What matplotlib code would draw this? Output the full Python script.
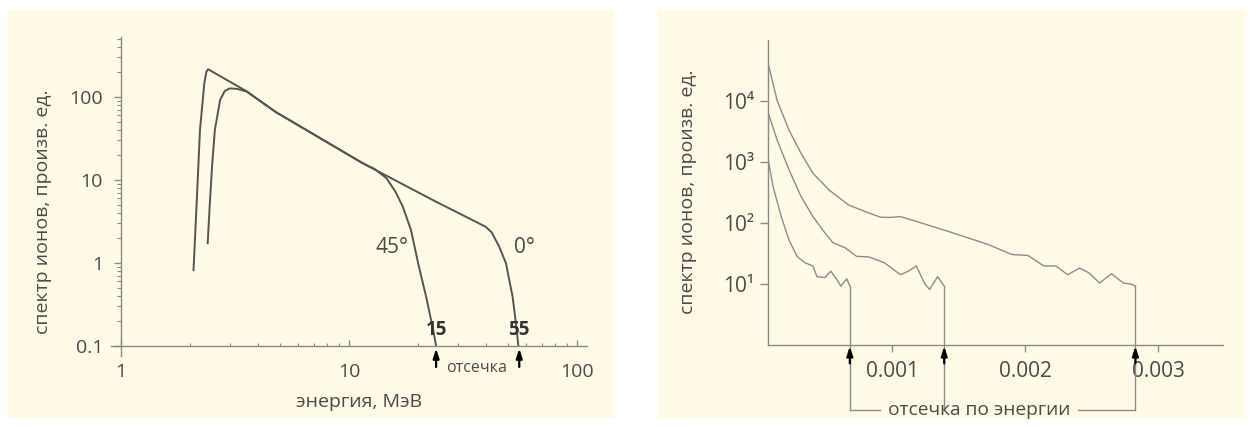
import numpy as np
import matplotlib
matplotlib.use('Agg')
import matplotlib.pyplot as plt
from matplotlib.patches import Rectangle
from matplotlib.ticker import FixedLocator, NullFormatter, NullLocator

plt.rcParams['font.family'] = ['Open Sans', 'DejaVu Sans']

TEXT = '#4a4a4a'
AXIS = '#8a8a8a'
PANEL = '#fffbe6'

# left panel: energy spectra, MeV (log-log)
deg0_x = [2.08, 2.15, 2.22, 2.32, 2.37, 2.41, 3.56, 4.77, 11.5, 23.7, 39.7, 42.2, 45.6, 48.8, 52.2, 54.4, 55.3]
deg0_y = [0.82, 5.7, 40, 147, 202, 216, 117, 66, 15.9, 5.6, 2.74, 2.35, 1.57, 0.99, 0.39, 0.156, 0.1]
deg45_x = [2.40, 2.45, 2.51, 2.58, 2.72, 2.85, 3.0, 3.25, 3.56, 4.77, 11.5, 13.0, 14.6, 16.0, 17.2, 18.7, 20.1, 21.8, 23.4, 24.1]
deg45_y = [1.73, 5, 15, 40, 92, 118, 127, 125, 116, 66, 15.9, 13.5, 10.5, 7.2, 4.8, 2.5, 0.99, 0.39, 0.156, 0.1]
cut_left = [24.1, 55.8]
cut_left_labels = ['15', '55']

# right panel: three spectra, energy in units of 1e-3
top_x = [0.064, 0.131, 0.221, 0.311, 0.401, 0.521, 0.670, 0.820, 0.910, 0.98, 1.06, 1.18, 1.42, 1.72,
         1.90, 2.02, 2.14, 2.23, 2.32, 2.41, 2.48, 2.56, 2.65, 2.74, 2.80, 2.83]
top_y = [41000, 10200, 3300, 1380, 650, 347, 195, 145, 123, 122, 126, 105, 72, 44,
         30, 29, 19.5, 19.5, 14, 18, 15, 10.2, 14.5, 10.2, 9.8, 9.1]
mid_x = [0.064, 0.131, 0.221, 0.311, 0.401, 0.491, 0.551, 0.641, 0.730, 0.820, 0.940, 1.06, 1.12,
         1.18, 1.24, 1.28, 1.34, 1.39]
mid_y = [6300, 2290, 740, 270, 126, 68, 47, 39, 28, 27.5, 22, 14, 16, 19.5, 10.2, 8, 13, 9.1]
low_x = [0.064, 0.101, 0.162, 0.221, 0.281, 0.341, 0.401, 0.431, 0.491, 0.536, 0.581, 0.611, 0.656, 0.679]
low_y = [1070, 390, 126, 52, 28, 22, 19.5, 13, 12.6, 16, 11.7, 9.1, 12, 9.1]

W, H = 1252, 428
fig = plt.figure(figsize=(W / 100, H / 100), dpi=100)

# cream panels behind each chart
for x0, x1 in [(8, 614), (658, 1245)]:
    fig.add_artist(Rectangle((x0 / W, (H - 418) / H), (x1 - x0) / W, 408 / H,
                             transform=fig.transFigure, facecolor=PANEL,
                             edgecolor='none', zorder=-5))

# ---------- left chart ----------
ax1 = fig.add_axes([111 / W, (H - 356) / H, 476 / W, 319.3 / H])
ax1.set_facecolor('none')
ax1.set_xscale('log')
ax1.set_yscale('log')
ax1.set_xlim(0.904, 110.6)
ax1.set_ylim(0.0758, 533)
ax1.plot(deg0_x, deg0_y, color='#555555', lw=1.4, solid_joinstyle='round')
ax1.plot(deg45_x, deg45_y, color='#555555', lw=1.4, solid_joinstyle='round')

for s in ['top', 'right']:
    ax1.spines[s].set_visible(False)
ax1.spines['left'].set_position(('data', 1))
ax1.spines['bottom'].set_position(('data', 0.1))
for s in ['left', 'bottom']:
    ax1.spines[s].set_color(AXIS)
    ax1.spines[s].set_linewidth(1.0)

ax1.set_xticks([1, 10, 100], labels=['1', '10', '100'])
ax1.set_yticks([0.1, 1, 10, 100], labels=['0.1', '1', '10', '100'])
ax1.xaxis.set_minor_locator(FixedLocator([k * 10.0 ** e for e in (0, 1) for k in range(2, 10)]))
ax1.yaxis.set_minor_locator(FixedLocator([k * 10.0 ** e for e in (-1, 0, 1, 2) for k in range(2, 10)
                                          if k * 10.0 ** e < 533]))
ax1.xaxis.set_minor_formatter(NullFormatter())
ax1.yaxis.set_minor_formatter(NullFormatter())
ax1.tick_params(axis='x', which='major', direction='in', length=4.5, width=1, pad=12,
                color=AXIS, labelcolor=TEXT, labelsize=14)
ax1.tick_params(axis='x', which='minor', direction='in', length=2.5, width=0.8, color=AXIS)
ax1.tick_params(axis='y', which='major', direction='out', length=5, width=1, pad=8,
                color=AXIS, labelcolor=TEXT, labelsize=14)
ax1.tick_params(axis='y', which='minor', direction='out', length=3, width=0.8, color=AXIS)

ax1.set_xlabel('энергия, МэВ', fontsize=14, color=TEXT, va='center')
ax1.xaxis.set_label_coords(0.521, -0.143)
ax1.set_ylabel('спектр ионов, произв. ед.', fontsize=14, color=TEXT, va='center')
ax1.yaxis.set_label_coords(-0.143, 0.451)

ax1.text(15.4, 1.52, '45°', fontsize=15, color=TEXT, ha='center', va='center')
ax1.text(58.6, 1.52, '0°', fontsize=15, color=TEXT, ha='center', va='center')
for xc, lab in zip(cut_left, cut_left_labels):
    ax1.text(xc, 0.156, lab, fontsize=13.5, fontweight='bold', color='#333333',
             ha='center', va='center')
    ax1.annotate('', xy=(xc, 0.0933), xytext=(xc, 0.0558), annotation_clip=False,
                 arrowprops=dict(arrowstyle='-|>,head_length=0.55,head_width=0.18',
                                 color='black', lw=1.6, shrinkA=0, shrinkB=0))
ax1.text(36.4, 0.0545, 'отсечка', fontsize=11.5, color=TEXT, ha='center', va='center')

# ---------- right chart ----------
ax2 = fig.add_axes([768 / W, (H - 344.5) / H, 455 / W, 304.5 / H])
ax2.set_facecolor('none')
ax2.set_yscale('log')
ax2.set_xlim(0.0625e-3, 3.49e-3)
ax2.set_ylim(1, 1e5)

curves = [(top_x, top_y), (mid_x, mid_y), (low_x, low_y)]
for cx, cy in curves:
    ax2.plot(np.array(cx) * 1e-3, cy, color='#8c8c8c', lw=1.0)

for s in ['top', 'right']:
    ax2.spines[s].set_visible(False)
for s in ['left', 'bottom']:
    ax2.spines[s].set_color(AXIS)
    ax2.spines[s].set_linewidth(1.0)

ax2.set_xticks([0.001, 0.002, 0.003], labels=['0.001', '0.002', '0.003'])
ax2.set_yticks([10, 100, 1000, 10000], labels=['10¹', '10²', '10³', '10⁴'])
ax2.yaxis.set_minor_locator(NullLocator())
ax2.tick_params(axis='x', direction='out', length=4.8, width=1, pad=7,
                color=AXIS, labelcolor=TEXT, labelsize=15)
ax2.tick_params(axis='y', direction='out', length=6, width=1, pad=4,
                color=AXIS, labelcolor=TEXT, labelsize=15)
ax2.set_ylabel('спектр ионов, произв. ед.', fontsize=14, color=TEXT, va='center')
ax2.yaxis.set_label_coords(-0.175, 0.5)

# energy cut-off bracket under the axis, with a gap for its caption
y_br = 0.0838
ends = [(cx[-1] * 1e-3, cy[-1]) for cx, cy in curves]
for xe, ye in ends:
    ax2.plot([xe, xe], [ye, y_br], color='#8c8c8c', lw=1.0, clip_on=False)
    ax2.annotate('', xy=(xe, 0.934), xytext=(xe, 0.49), annotation_clip=False,
                 arrowprops=dict(arrowstyle='-|>,head_length=0.55,head_width=0.18',
                                 color='black', lw=1.6, shrinkA=0, shrinkB=0))
xs = [e[0] for e in ends]
ax2.plot([min(xs), 0.905e-3], [y_br, y_br], color='#8c8c8c', lw=1.0, clip_on=False)
ax2.plot([2.40e-3, max(xs)], [y_br, y_br], color='#8c8c8c', lw=1.0, clip_on=False)
ax2.text(1.651e-3, y_br, 'отсечка по энергии', fontsize=13.8, color=TEXT, ha='center',
         va='center')

fig.savefig('out.png', dpi=100)
